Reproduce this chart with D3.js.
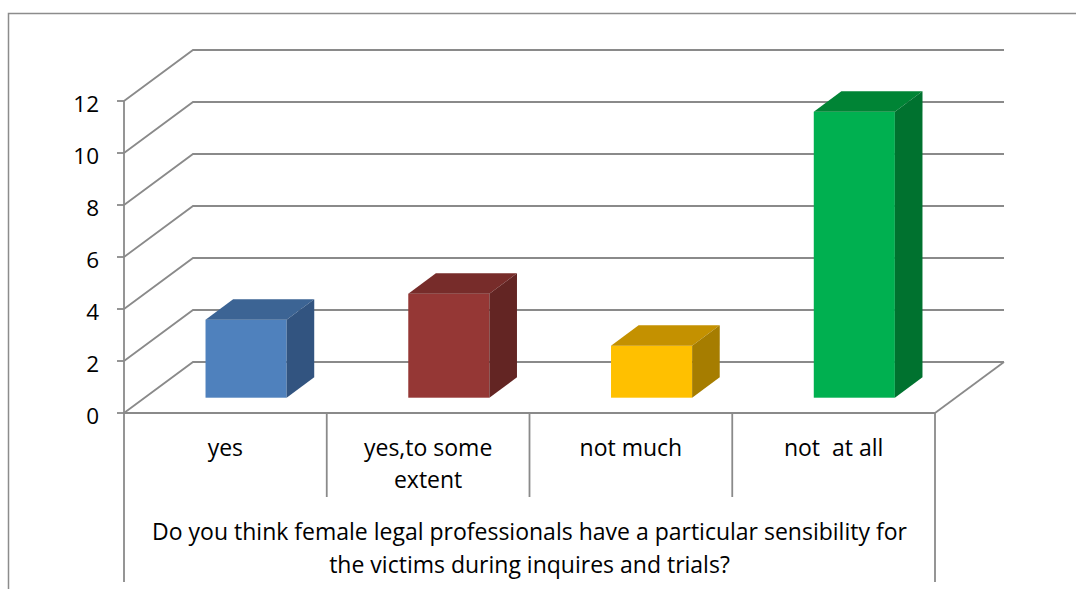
<!DOCTYPE html>
<html>
<head>
<meta charset="utf-8">
<script src="https://cdn.jsdelivr.net/npm/d3@7"></script>
<style>
  body { margin: 0; background: #fff; }
  text { font-family: "Open Sans", Lato, sans-serif; fill: #000; white-space: pre; }
</style>
</head>
<body>
<div id="chart"></div>
<script>
const categories = ["yes", "yes,to some extent", "not much", "not  at all"];
const categoryLines = [["yes"], ["yes,to some", "extent"], ["not much"], ["not  at all"]];
const values = [3, 4, 2, 11];
const yTicks = [0, 2, 4, 6, 8, 10, 12];
const titleLines = ["Do you think female legal professionals have a particular sensibility for",
                    "the victims during inquires and trials?"];
const frontColors = ["#4f81bd", "#953735", "#ffc000", "#00b050"];
const topColors = ["#3c6494", "#772c2a", "#c49100", "#008435"];
const sideColors = ["#325480", "#632523", "#a67d00", "#00722f"];

let width = 1076, height = 589;
let gridColor = "#8a8a8a";

// full depth of the 3d box, and where the bars sit inside it
let depthX = 69, depthY = -51;
let barFront = 0.3, barDepth = 0.4;

let x = d3.scaleBand()
  .domain(categories)
  .range([124, 935]);

let y = d3.scaleLinear()
  .domain([0, 12])
  .range([413, 101]);

let svg = d3.select("#chart").append("svg")
  .attr("width", width)
  .attr("height", height);

// outer frame (cropped on the right and bottom)
svg.append("path")
  .attr("d", "M8.5," + height + "V13.5H" + width)
  .attr("fill", "none")
  .attr("stroke", "#8c8c8c")
  .attr("stroke-width", 1.5);

// side wall diagonals + back wall gridlines
let grid = svg.append("g")
  .attr("fill", "none")
  .attr("stroke", gridColor)
  .attr("stroke-width", 1.8);

grid.selectAll(".grid")
  .data(yTicks)
  .enter()
  .append("path")
  .attr("d", d => {
    let x0 = x.range()[0], y0 = y(d);
    return "M" + x0 + "," + y0 +
      "L" + (x0 + depthX) + "," + (y0 + depthY) +
      "H" + (x.range()[1] + depthX);
  });

// floor right edge
grid.append("path")
  .attr("d", "M" + x.range()[1] + "," + y(0) + "l" + depthX + "," + depthY);

// front axis lines
grid.append("path")
  .attr("d", "M" + x.range()[0] + "," + y(12) + "V" + y(0) + "H" + x.range()[1]);

// y ticks
grid.selectAll(".ytick")
  .data(yTicks)
  .enter()
  .append("path")
  .attr("d", d => "M" + (x.range()[0] - 7) + "," + y(d) + "h7");

// category separators below the axis
let bounds = categories.map(c => x(c)).concat([x.range()[1]]);
grid.selectAll(".sep")
  .data(bounds)
  .enter()
  .append("path")
  .attr("d", (d, i) => {
    let outer = i == 0 || i == bounds.length - 1;
    return "M" + d + "," + y(0) + "V" + (outer ? 582 : 497);
  });

// y labels
svg.selectAll(".ylabel")
  .data(yTicks)
  .enter()
  .append("text")
  .attr("x", 99)
  .attr("y", d => y(d) + 3)
  .attr("dy", "0.35em")
  .attr("text-anchor", "end")
  .style("font-size", "22.5px")
  .text(d => d);

// bars
let fx = barFront * depthX, fy = barFront * depthY;
let bx = barDepth * depthX, by = barDepth * depthY;
let bw = x.bandwidth() * 0.4;

let bars = svg.selectAll(".bar")
  .data(values)
  .enter()
  .append("g");

bars.append("rect")
  .attr("x", (d, i) => x(categories[i]) + x.bandwidth() / 2 - bw / 2 + fx)
  .attr("y", d => y(d) + fy)
  .attr("width", bw)
  .attr("height", d => y(0) - y(d))
  .attr("fill", (d, i) => frontColors[i]);

bars.append("polygon")
  .attr("points", (d, i) => {
    let x0 = x(categories[i]) + x.bandwidth() / 2 - bw / 2 + fx, x1 = x0 + bw, t = y(d) + fy;
    return [[x0, t], [x1, t], [x1 + bx, t + by], [x0 + bx, t + by]].join(" ");
  })
  .attr("fill", (d, i) => topColors[i]);

bars.append("polygon")
  .attr("points", (d, i) => {
    let x1 = x(categories[i]) + x.bandwidth() / 2 + bw / 2 + fx, t = y(d) + fy, b = y(0) + fy;
    return [[x1, t], [x1 + bx, t + by], [x1 + bx, b + by], [x1, b]].join(" ");
  })
  .attr("fill", (d, i) => sideColors[i]);

// category labels
svg.selectAll(".xlabel")
  .data(categoryLines)
  .enter()
  .append("text")
  .attr("text-anchor", "middle")
  .style("font-size", "23px")
  .each(function(lines, i) {
    d3.select(this).selectAll("tspan")
      .data(lines)
      .enter()
      .append("tspan")
      .attr("x", x(categories[i]) + x.bandwidth() / 2)
      .attr("y", (l, j) => 456 + j * 32)
      .text(l => l);
  });

// axis title
svg.append("text")
  .attr("text-anchor", "middle")
  .style("font-size", "23px")
  .selectAll("tspan")
  .data(titleLines)
  .enter()
  .append("tspan")
  .attr("x", (x.range()[0] + x.range()[1]) / 2)
  .attr("y", (d, i) => 540 + i * 33)
  .text(d => d);
</script>
</body>
</html>
